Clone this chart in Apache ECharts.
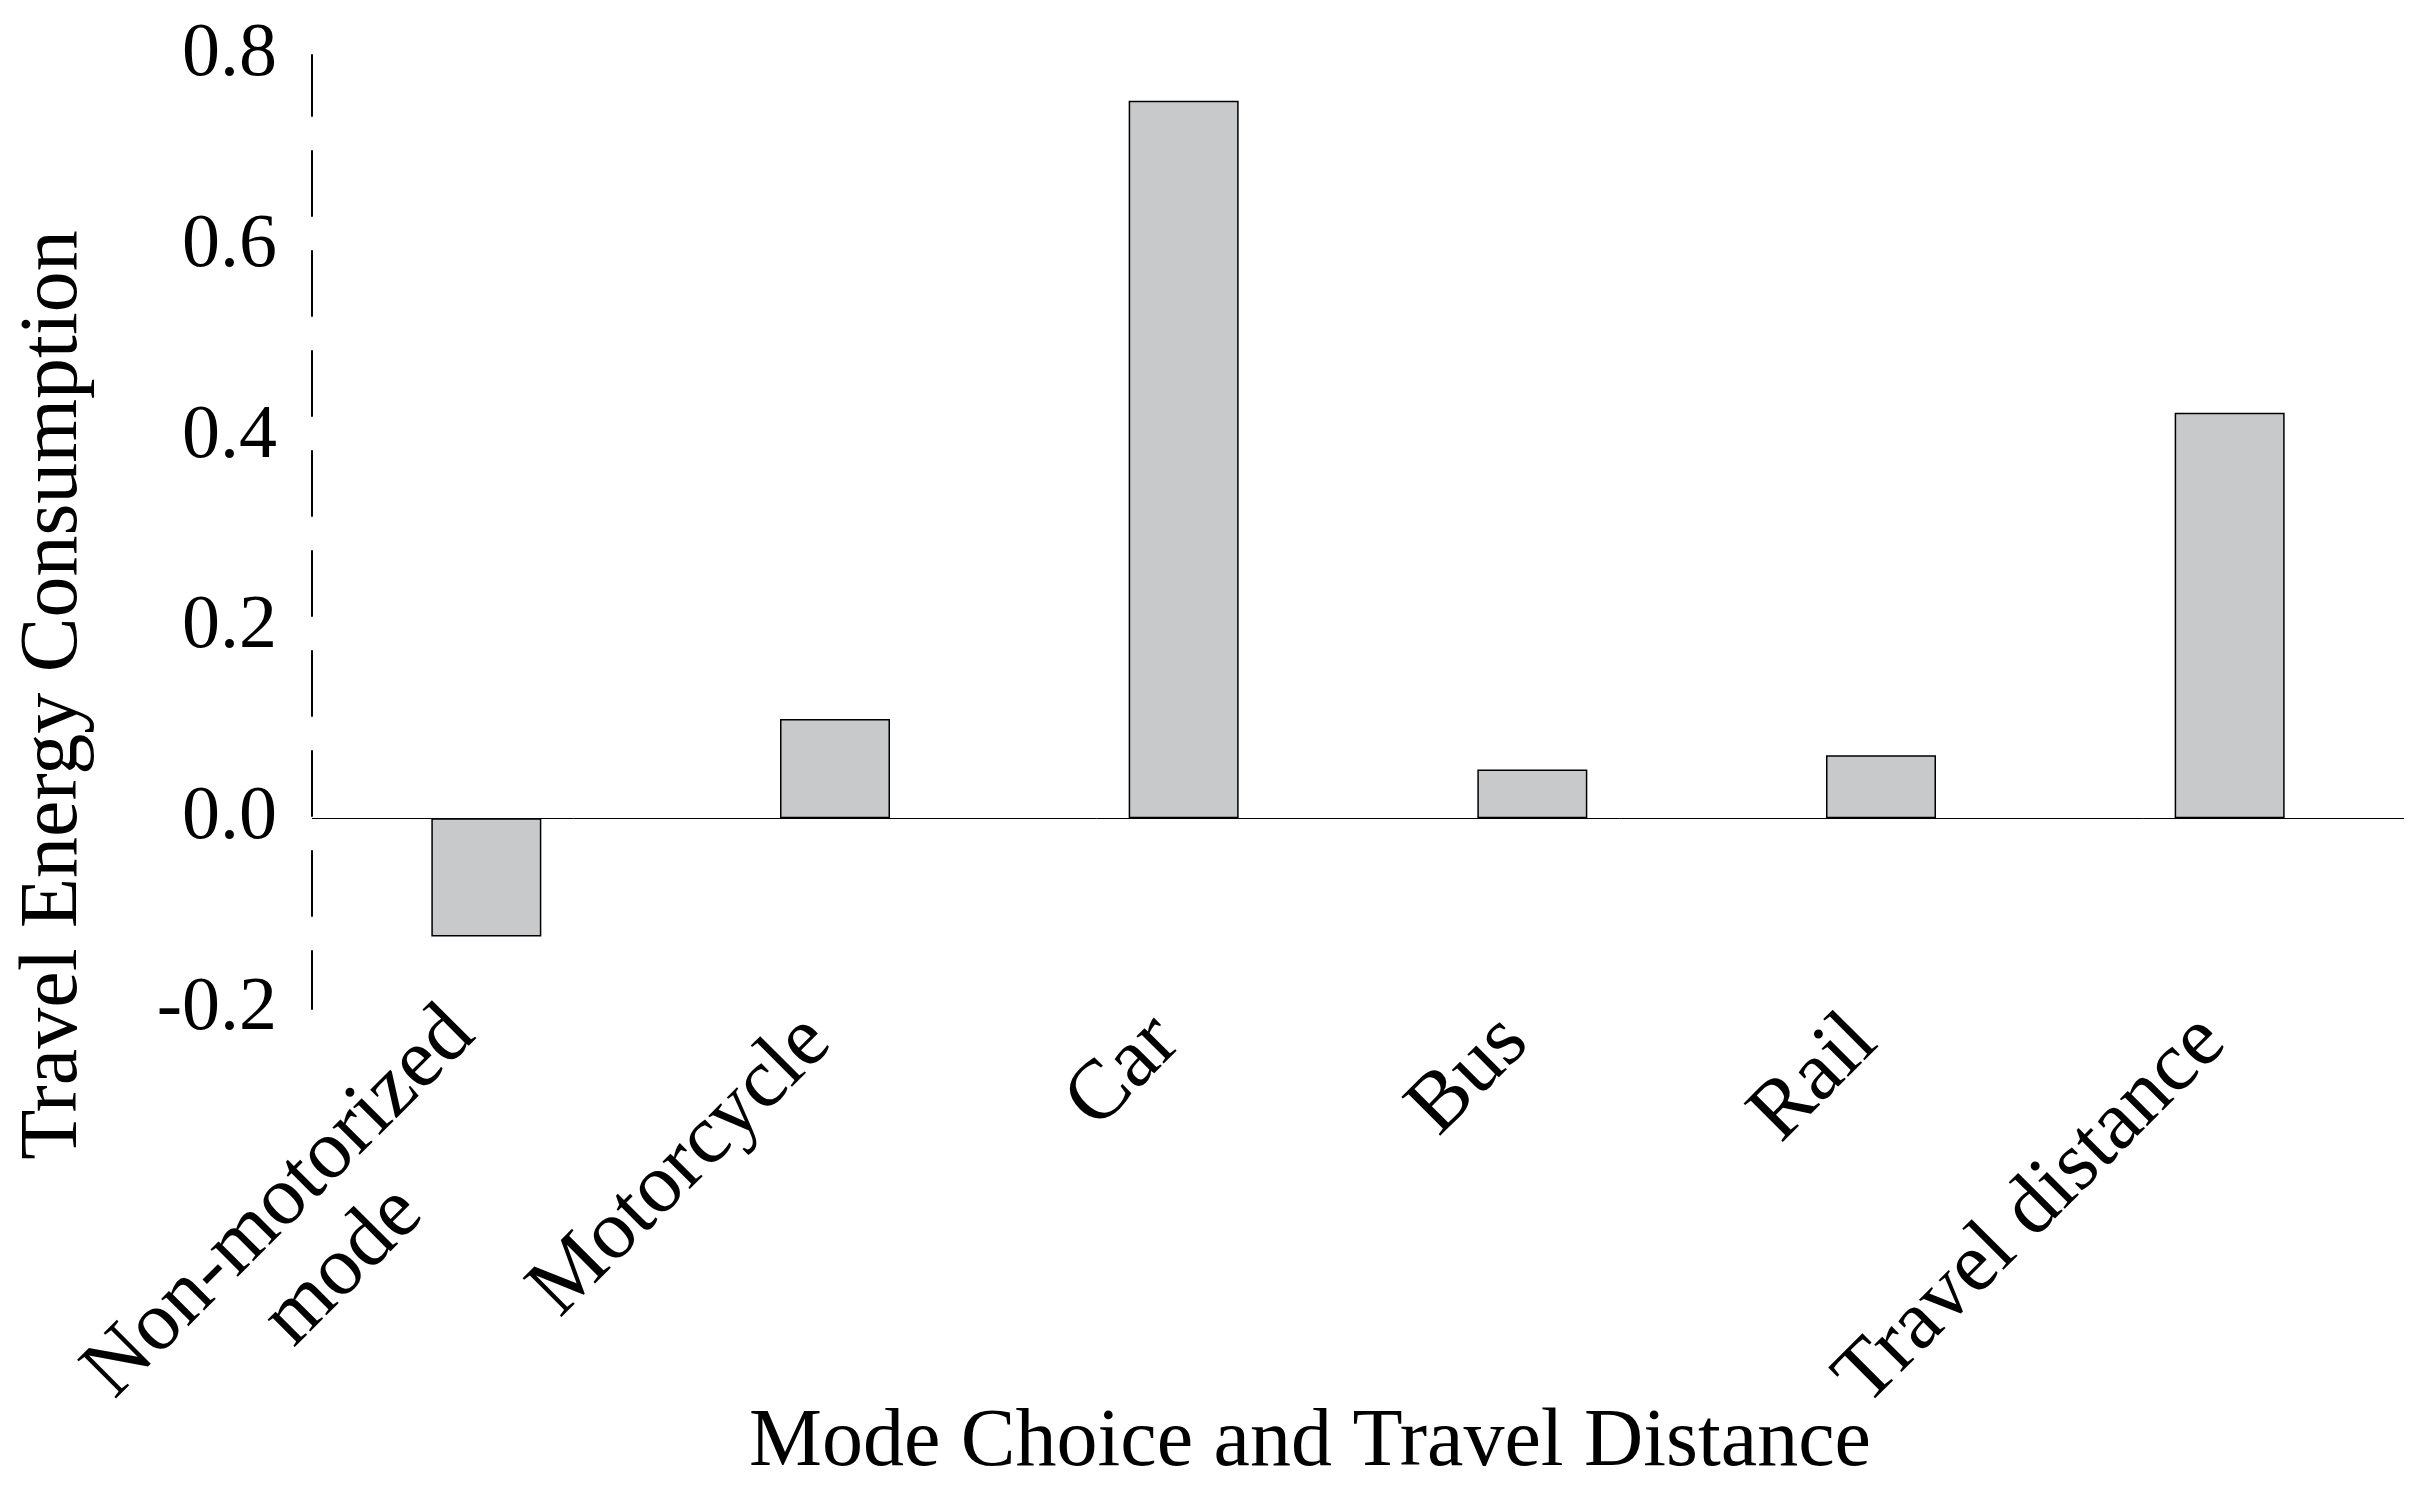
<!DOCTYPE html>
<html>
<head>
<meta charset="utf-8">
<script src="https://cdn.jsdelivr.net/npm/echarts@6/dist/echarts.min.js"></script>
<style>
html,body{margin:0;padding:0;background:#fff;}
#chart{width:2433px;height:1495px;}
</style>
</head>
<body>
<div id="chart"></div>
<script>
const categories = ['Non-motorized\nmode', 'Motorcycle', 'Car', 'Bus', 'Rail', 'Travel distance'];
const values = [-0.124, 0.104, 0.752, 0.051, 0.066, 0.425];
const yMin = -0.2, yMax = 0.8, yStep = 0.2;
const yTitle = 'Travel Energy Consumption';
const xTitle = 'Mode Choice and Travel Distance';

const FONT = '"Liberation Serif", "Times New Roman", serif';
const LABEL_PAD = [0, 18, 12, 0];
const LABEL_PAD_MULTI = [68, 18, 12, 0];
const categoryData = categories.map(function (c) {
  return c.indexOf('\n') >= 0 ? {value: c, textStyle: {padding: LABEL_PAD_MULTI}} : c;
});

const chart = echarts.init(document.getElementById('chart'), null, {renderer: 'canvas'});
chart.setOption({
  backgroundColor: '#ffffff',
  animation: false,
  grid: {left: 312, right: 29, top: 55, bottom: 486, containLabel: false},
  xAxis: {
    type: 'category',
    data: categoryData,
    axisLine: {show: false, onZero: false},
    axisTick: {show: false},
    splitLine: {show: false},
    axisLabel: {
      rotate: 45,
      margin: 12,
      interval: 0,
      color: '#000',
      fontFamily: FONT,
      fontSize: 84,
      lineHeight: 90,
      padding: LABEL_PAD,
      formatter: function (v) {
        return v.split('\n').map(function (s) { return '{c|' + s + '}'; }).join('\n');
      },
      rich: {
        c: {align: 'center', fontFamily: FONT, fontSize: 84, lineHeight: 90, color: '#000'}
      }
    }
  },
  yAxis: {
    type: 'value',
    min: yMin,
    max: yMax,
    interval: yStep,
    axisLine: {show: true, lineStyle: {color: '#000', width: 2, type: [65, 35], dashOffset: 7}},
    axisTick: {show: false},
    splitLine: {show: false},
    axisLabel: {
      margin: 35,
      color: '#000',
      fontFamily: FONT,
      fontSize: 76,
      padding: [0, 0, 20, 0],
      formatter: function (v) { return v.toFixed(1); }
    }
  },
  graphic: [
    {type: 'text', x: 54, y: 695, rotation: Math.PI / 2,
     style: {text: yTitle, fill: '#000', font: '82px ' + FONT, textAlign: 'center', textVerticalAlign: 'middle'}},
    {type: 'text', x: 1310, y: 1443,
     style: {text: xTitle, fill: '#000', font: '82px ' + FONT, textAlign: 'center', textVerticalAlign: 'middle'}}
  ],
  series: [{
    type: 'bar',
    data: values,
    barWidth: 110,
    itemStyle: {color: '#c8c9cb', borderColor: '#000', borderWidth: 1.5},
    markLine: {
      silent: true,
      symbol: 'none',
      label: {show: false},
      lineStyle: {color: '#000', width: 1, type: 'solid'},
      data: [{yAxis: 0}]
    }
  }]
});
</script>
</body>
</html>
